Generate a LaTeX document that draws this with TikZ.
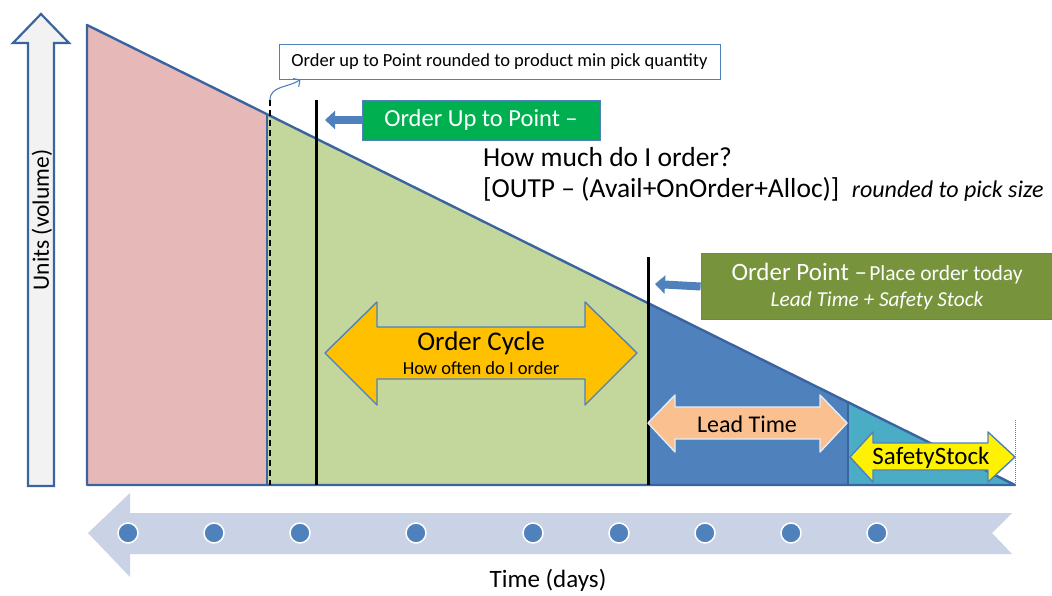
\documentclass[tikz,border=0pt]{standalone}
\usepackage{fontspec}
\setmainfont{Carlito}
\usepackage{xcolor}
\usetikzlibrary{arrows.meta,positioning}

\definecolor{pinkarea}{HTML}{E6B9B8}
\definecolor{greenarea}{HTML}{C3D69B}
\definecolor{bluearea}{HTML}{4F81BD}
\definecolor{tealarea}{HTML}{4BACC6}
\definecolor{edgeblue}{HTML}{3A64A0}
\definecolor{boxgreen}{HTML}{00B050}
\definecolor{boxolive}{HTML}{77933C}
\definecolor{cycleorange}{HTML}{FFC000}
\definecolor{leadpeach}{HTML}{FAC090}
\definecolor{timeband}{HTML}{CAD3E5}

\newcommand{\fs}[1]{\fontsize{#1}{#1}\selectfont}

\begin{document}
\begin{tikzpicture}[x=1pt, y=-1pt,
    notebox/.style={rectangle, draw=bluearea, fill=white, line width=0.8pt, inner sep=0pt, minimum width=441pt, minimum height=35pt, font=\fs{18.5}},
    colorbox/.style={rectangle, draw=bluearea, line width=0.8pt, text=white, inner sep=0pt},
    plain/.style={inner sep=0pt, text=black},
    pointer/.style={-{Triangle[length=10pt, width=18pt]}, line width=8pt, color=bluearea},
    span/.style={line width=1.4pt, line join=round},
    tick/.style={circle, fill=bluearea, draw=white, line width=1.5pt, minimum size=20pt, inner sep=0pt}
]
\useasboundingbox (0,0) rectangle (1052,596);

\fill[pinkarea] (87,485) -- (87,25) -- (267,114.2) -- (267,485) -- cycle;
\fill[greenarea] (267,485) -- (267,114.2) -- (648,303.1) -- (648,485) -- cycle;
\fill[bluearea] (648,485) -- (648,303.1) -- (848,402.2) -- (848,485) -- cycle;
\fill[tealarea] (848,485) -- (848,402.2) -- (1015,485) -- cycle;
\draw[edgeblue, line width=1.2pt] (267,114.2) -- (267,485) (848,402.2) -- (848,485);
\draw[edgeblue, line width=2.4pt, line join=round] (87,485) -- (87,25) -- (1015,485) -- cycle;
\draw[bluearea, densely dotted, line width=1pt] (1015,420) -- (1015,485);

\draw[edgeblue, fill=black!5, line width=2.2pt, line join=miter]
    (28,486) -- (28,43) -- (13,43) -- (41,14) -- (69,43) -- (54,43) -- (54,486) -- cycle;
\node[plain, rotate=90, font=\fs{23.5}] (units) at (42,220) {Units (volume)};

\coordinate (dashtop) at (270,100);
\coordinate (outpline) at (316,120);
\coordinate (opline) at (648,284);
\draw[black, dash pattern=on 6pt off 4pt, line width=1.4pt] (dashtop) -- (270,485);
\draw[black, line width=3pt] (316,100) -- (316,485);
\draw[black, line width=3pt] (648,257) -- (648,485);

\node[notebox] (rupt) at (499.5,61.5) {Order up to Point rounded to product min pick quantity};
\draw[-{Straight Barb[length=5pt]}, bluearea, line width=1.1pt] (dashtop) to[out=90, in=215] ([xshift=22pt]rupt.south west);

\node[colorbox, fill=boxgreen, minimum width=238pt, minimum height=40pt, font=\fs{24.5}] (outp) at (481,120) {Order Up to Point --};
\draw[pointer] (outp.west) -- ([xshift=9pt]outpline);

\node[plain, anchor=base west, font=\fs{27.5}] (howmuch) at (483,167) {How much do I order?};
\node[plain, anchor=base west, font=\fs{27.5}] (formula) at (483,198) {[OUTP -- (Avail+OnOrder+Alloc)]};
\node[plain, anchor=base west, font=\fs{24}\itshape] (roundpick) at ([xshift=12pt]formula.base east) {rounded to pick size};

\node[colorbox, fill=boxolive, minimum width=352pt, minimum height=66pt, align=center] (op) at (877,286.5)
    {{\fs{25}Order Point --} {\fs{21.5}Place order today}\\[7pt] {\fs{21.3}\itshape Lead Time + Safety Stock}};
\draw[pointer] (op.west) -- ([xshift=7pt]opline);

\draw[span, draw=bluearea, fill=cycleorange]
    (325,353) -- (377,302) -- (377,327) -- (585,327) -- (585,302) -- (637,353)
    -- (585,405) -- (585,379) -- (377,379) -- (377,405) -- cycle;
\node[plain, font=\fs{27}] (cycle) at (481,343) {Order Cycle};
\node[plain, font=\fs{18.5}] (often) at (481,368) {How often do I order};

\draw[span, draw=white!85!bluearea, fill=leadpeach]
    (648,423) -- (675,395) -- (675,407) -- (820,407) -- (820,395) -- (847,423)
    -- (820,452) -- (820,439) -- (675,439) -- (675,452) -- cycle;
\node[plain, font=\fs{24}] (lead) at (747,424) {Lead Time};

\draw[span, draw=bluearea, fill=yellow]
    (850,457) -- (873,432) -- (873,443) -- (988,443) -- (988,432) -- (1015,457)
    -- (988,482) -- (988,470) -- (873,470) -- (873,482) -- cycle;
\node[plain, font=\fs{25}] (safety) at (931,458) {SafetyStock};

\fill[timeband] (88,533) -- (130,493) -- (130,513) -- (1012,513) -- (992,533)
    -- (1012,554) -- (130,554) -- (130,577) -- cycle;
\foreach \x/\n in {128/1, 214/2, 300/3, 416/4, 533/5, 619/6, 705/7, 791/8, 877/9}
    \node[tick] (day\n) at (\x,533) {};
\node[plain, font=\fs{25}] (time) at (548,580) {Time (days)};
\end{tikzpicture}
\end{document}
